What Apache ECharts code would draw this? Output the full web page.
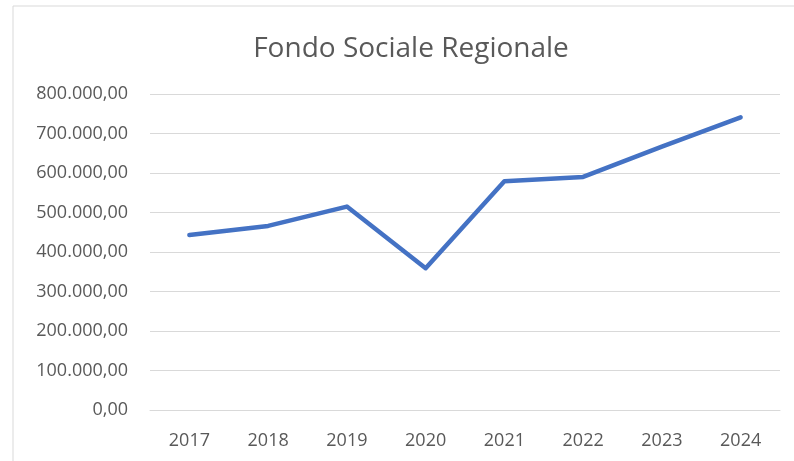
<!DOCTYPE html>
<html>
<head>
<meta charset="utf-8">
<script src="https://cdn.jsdelivr.net/npm/echarts@6/dist/echarts.min.js"></script>
<style>
  html, body { margin: 0; padding: 0; background: #fff; }
  #chart { width: 794px; height: 461px; }
</style>
</head>
<body>
<div id="chart"></div>
<script>
// dati
var anni = ['2017', '2018', '2019', '2020', '2021', '2022', '2023', '2024'];
var importi = [443000, 466000, 515000, 359000, 579000, 590000, 667000, 741000];

function formatIt(v) {
    var s = Math.round(v).toString().replace(/\B(?=(\d{3})+(?!\d))/g, '.');
    return s + ',00';
}

var chart = echarts.init(document.getElementById('chart'));

var option = {
    animation: false,
    title: {
        text: 'Fondo Sociale Regionale',
        left: 411,
        top: 35,
        padding: 0,
        textAlign: 'center',
        textStyle: {
            fontFamily: 'Open Sans',
            fontSize: 28,
            fontWeight: 'normal',
            color: '#595959'
        }
    },
    graphic: [{
        type: 'rect',
        shape: { x: 13, y: 6, width: 800, height: 470 },
        style: { fill: 'none', stroke: '#d9d9d9', lineWidth: 1 },
        silent: true
    }],
    grid: {
        left: 150,
        right: 14,
        top: 94,
        bottom: 51,
        containLabel: false
    },
    xAxis: {
        type: 'category',
        data: anni,
        boundaryGap: true,
        axisLine: { show: true, lineStyle: { color: '#d9d9d9', width: 1 } },
        axisTick: { show: false },
        axisLabel: {
            margin: 22,
            fontFamily: 'Open Sans',
            fontSize: 18,
            color: '#595959'
        }
    },
    yAxis: {
        type: 'value',
        min: 0,
        max: 800000,
        interval: 100000,
        axisLine: { show: false },
        axisTick: { show: false },
        splitLine: { lineStyle: { color: '#d9d9d9', width: 1 } },
        axisLabel: {
            margin: 22,
            fontFamily: 'Open Sans',
            fontSize: 18,
            color: '#595959',
            formatter: formatIt
        }
    },
    series: [{
        name: 'Fondo Sociale Regionale',
        type: 'line',
        data: importi,
        showSymbol: false,
        symbol: 'none',
        lineStyle: { color: '#4472C4', width: 4.5, cap: 'round', join: 'round' },
        itemStyle: { color: '#4472C4' }
    }]
};

chart.setOption(option);
</script>
</body>
</html>
